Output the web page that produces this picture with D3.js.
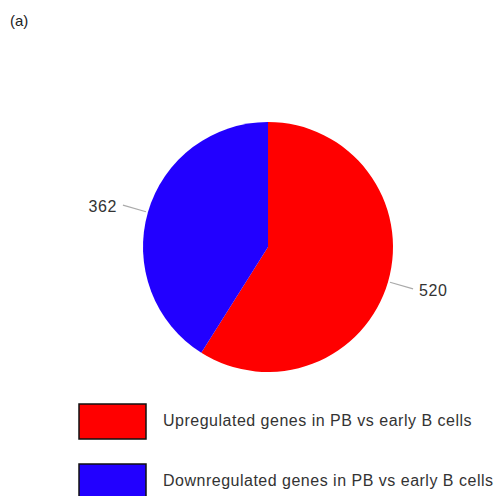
<!DOCTYPE html>
<html><head><meta charset="utf-8">
<script src="https://cdn.jsdelivr.net/npm/d3@7"></script>
<style>body{margin:0;background:#fff}svg{display:block}</style>
</head><body><svg id="c" width="498" height="496"></svg>
<script>
const categories = ["Upregulated genes in PB vs early B cells", "Downregulated genes in PB vs early B cells"];
const values = [520, 362];
const colors = ["#ff0000", "#2200ff"];
const panelLabel = "(a)";

const svg = d3.select("#c");
const font = "'Liberation Sans', Arial, sans-serif";
svg.append("text").attr("x", 10).attr("y", 26).attr("font-family", font).attr("font-size", 15).attr("fill", "#222").text(panelLabel);

const cx = 268, cy = 247, r = 125;
const pie = d3.pie().sort(null).value(d => d)(values);
const arc = d3.arc().innerRadius(0).outerRadius(r);
const g = svg.append("g").attr("transform", `translate(${cx},${cy})`);
g.selectAll("path").data(pie).join("path").attr("d", arc).attr("fill", (d, i) => colors[i]);

const inner = d3.arc().innerRadius(r + 2).outerRadius(r + 2);
const outer = d3.arc().innerRadius(r + 26).outerRadius(r + 26);
pie.forEach((d, i) => {
  const a = inner.centroid(d), b = outer.centroid(d);
  g.append("line").attr("x1", a[0]).attr("y1", a[1]).attr("x2", b[0]).attr("y2", b[1]).attr("stroke", "#aaa").attr("stroke-width", 1.2);
  const right = b[0] > 0;
  g.append("text").attr("x", b[0] + (right ? 6 : -6)).attr("y", b[1] + 3)
    .attr("text-anchor", right ? "start" : "end").attr("dominant-baseline", "middle")
    .attr("font-family", font).attr("font-size", 16).attr("letter-spacing", 0.6).attr("fill", "#333").text(values[i]);
});

const leg = svg.append("g");
categories.forEach((c, i) => {
  const y = 404 + i * 60;
  leg.append("rect").attr("x", 79).attr("y", y).attr("width", 67).attr("height", 35).attr("fill", colors[i]).attr("stroke", "#111").attr("stroke-width", 1.5);
  leg.append("text").attr("x", 163).attr("y", y + 18).attr("dominant-baseline", "middle").attr("font-family", font).attr("font-size", 16).attr("letter-spacing", 0.5).attr("fill", "#333").text(c);
});
</script></body></html>
